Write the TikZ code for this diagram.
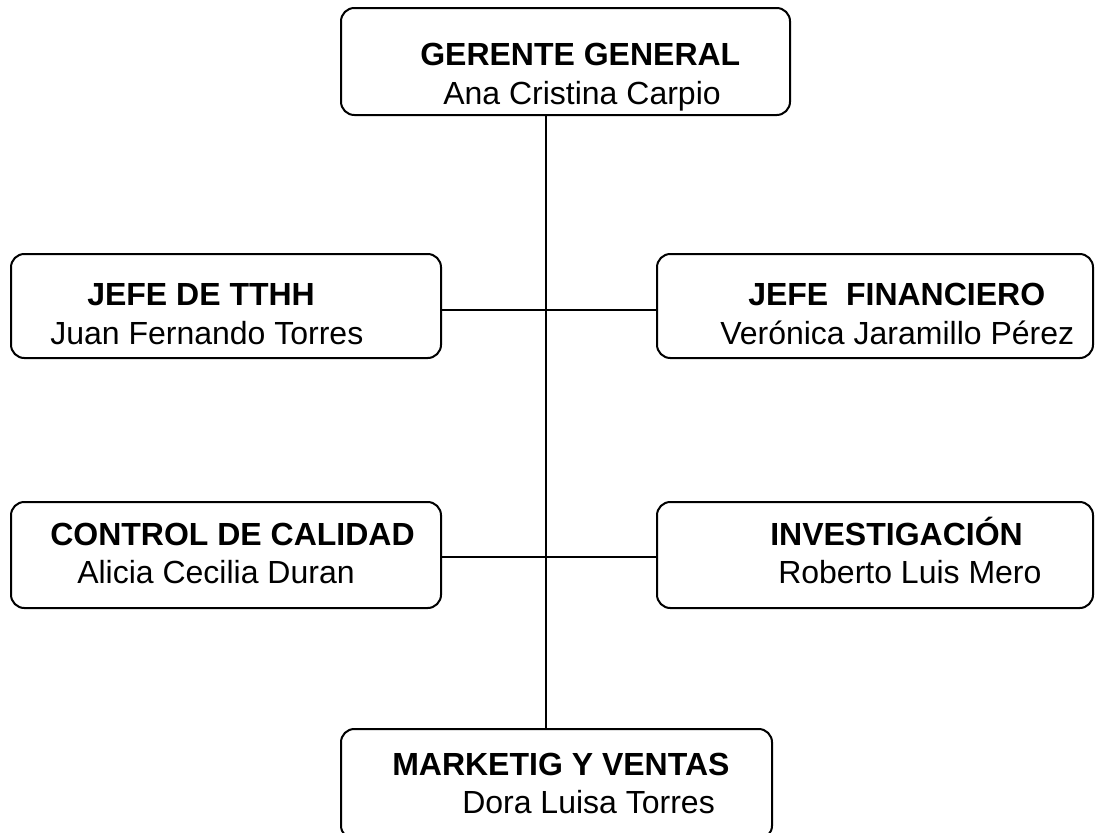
\documentclass[tikz,border=0pt]{standalone}
\usepackage{fontspec}
\setmainfont{Liberation Sans}
\begin{document}
\begin{tikzpicture}[x=0.75pt,y=-0.75pt,
  box/.style={draw,line width=1.5pt,rounded corners=10pt,inner sep=0pt,outer sep=0pt},
  lbl/.style={anchor=base west,inner sep=0pt,font=\fontsize{24}{28}\selectfont},
  hd/.style={lbl,font=\fontsize{24}{28}\selectfont\bfseries},
  conn/.style={line width=1.5pt}]
\clip (0,0) rectangle (1096,832);
\node[box,minimum width=449*0.75pt,minimum height=107*0.75pt] (top) at (565.5,61.5) {};
\node[box,minimum width=430*0.75pt,minimum height=104*0.75pt] (tthh) at (226,306) {};
\node[box,minimum width=436*0.75pt,minimum height=104*0.75pt] (fin) at (875,306) {};
\node[box,minimum width=430*0.75pt,minimum height=106*0.75pt] (cal) at (226,555) {};
\node[box,minimum width=436*0.75pt,minimum height=106*0.75pt] (inv) at (875,555) {};
\node[box,minimum width=431*0.75pt,minimum height=110*0.75pt] (mkt) at (556.5,784) {};
\coordinate (spine) at (545.5,0);

\node[hd] (t1) at (420,65) {GERENTE GENERAL};
\node[lbl] (t2) at (443,104) {Ana Cristina Carpio};
\node[hd] (a1) at (87,305) {JEFE DE TTHH};
\node[lbl] (a2) at (50,344) {Juan Fernando Torres};
\node[hd] (b1) at (748,305) {JEFE\ \ FINANCIERO};
\node[lbl] (b2) at (720,344) {Verónica Jaramillo Pérez};
\node[hd] (c1) at (50,545) {CONTROL DE CALIDAD};
\node[lbl] (c2) at (77,583) {Alicia Cecilia Duran};
\node[hd] (d1) at (770,545) {INVESTIGACIÓN};
\node[lbl] (d2) at (778,583) {Roberto Luis Mero};
\node[hd] (e1) at (392,775) {MARKETIG Y VENTAS};
\node[lbl] (e2) at (462,813) {Dora Luisa Torres};

\draw[conn] (top.south -| spine) -- (mkt.north -| spine);
\draw[conn] ([yshift=-3pt]tthh.east) -- ([yshift=-3pt]fin.west);
\draw[conn] ([yshift=-1.5pt]cal.east) -- ([yshift=-1.5pt]inv.west);
\end{tikzpicture}
\end{document}
